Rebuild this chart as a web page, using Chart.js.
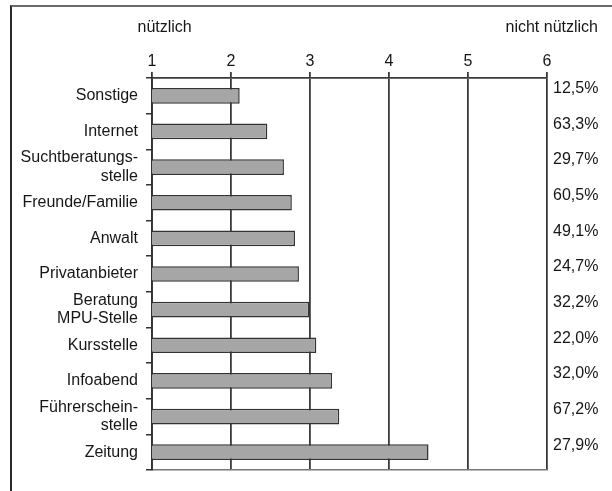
<!DOCTYPE html>
<html>
<head>
<meta charset="utf-8">
<script src="https://cdn.jsdelivr.net/npm/chart.js@4/dist/chart.umd.min.js"></script>
<style>
  html, body { margin: 0; padding: 0; background: #fff; }
  #wrap { position: relative; width: 612px; height: 491px; overflow: hidden; }
  #frame { position: absolute; left: 10px; top: 5px; width: 700px; height: 600px;
           border-top: 2px solid #6a6a6a; border-left: 2px solid #2a2a2a; box-sizing: border-box; }
  canvas { position: absolute; left: 0; top: 0; }
</style>
</head>
<body>
<div id="wrap">
  <div id="frame"></div>
  <canvas id="c" width="612" height="491"></canvas>
</div>
<script>
const categories = ["Sonstige", "Internet", ["Suchtberatungs-", "stelle"], "Freunde/Familie", "Anwalt",
  "Privatanbieter", ["Beratung", "MPU-Stelle"], "Kursstelle", "Infoabend", ["Führerschein-", "stelle"], "Zeitung"];
const ratings = [2.11, 2.46, 2.67, 2.77, 2.81, 2.86, 2.99, 3.08, 3.28, 3.37, 4.50];
const shares = ["12,5%", "63,3%", "29,7%", "60,5%", "49,1%", "24,7%", "32,2%", "22,0%", "32,0%", "67,2%", "27,9%"];
const scaleMin = 1, scaleMax = 6;
const leftLabel = "nützlich", rightLabel = "nicht nützlich";

const FONT = "'Liberation Sans', Arial, sans-serif";
const TXT = "#161616";

const headerPlugin = {
  id: "header",
  afterDraw(chart) {
    const ctx = chart.ctx;
    ctx.save();
    ctx.font = "16px " + FONT;
    ctx.fillStyle = TXT;
    ctx.textBaseline = "middle";
    ctx.textAlign = "center";
    ctx.fillText(leftLabel, chart.scales.x.getPixelForValue(1.16), 28);
    ctx.textAlign = "right";
    ctx.fillText(rightLabel, 598, 28);
    ctx.restore();
  }
};

new Chart(document.getElementById("c"), {
  type: "bar",
  data: {
    labels: categories,
    datasets: [{
      data: ratings,
      backgroundColor: "#a6a6a6",
      borderColor: "#333",
      borderWidth: 1.5,
      borderSkipped: false,
      barPercentage: 0.44,
      categoryPercentage: 1
    }]
  },
  options: {
    indexAxis: "y",
    responsive: false,
    animation: false,
    layout: { padding: 0 },
    plugins: { legend: { display: false }, tooltip: { enabled: false } },
    scales: {
      x: {
        position: "top",
        min: scaleMin, max: scaleMax,
        ticks: { stepSize: 1, color: TXT, font: { family: FONT, size: 16 }, padding: 1 },
        grid: { color: "#3a3a3a", lineWidth: 1.8, tickLength: 6, drawOnChartArea: true },
        border: { color: "#3a3a3a", width: 1.8 },
        afterFit(s) { s.height = 78; }
      },
      x2: {
        position: "bottom",
        min: scaleMin, max: scaleMax,
        ticks: { display: false },
        grid: { display: true, drawOnChartArea: false, drawTicks: false },
        border: { color: "#777", width: 1.5 },
        afterFit(s) { s.height = 21; }
      },
      y: {
        position: "left",
        ticks: { autoSkip: false, color: TXT, font: { family: FONT, size: 16, lineHeight: 1.15 }, padding: 8 },
        grid: { offset: true, drawOnChartArea: false, tickLength: 6, color: "#333", lineWidth: 1.5 },
        border: { color: "#333", width: 1.8 },
        afterFit(s) { s.width = 152; }
      },
      y2: {
        type: "category",
        position: "right",
        labels: shares,
        offset: true,
        ticks: { autoSkip: false, color: TXT, font: { family: FONT, size: 16 }, padding: 6, labelOffset: -7 },
        grid: { display: false, drawTicks: false },
        border: { display: false },
        afterFit(s) { s.width = 65; }
      }
    }
  },
  plugins: [headerPlugin]
});
</script>
</body>
</html>
